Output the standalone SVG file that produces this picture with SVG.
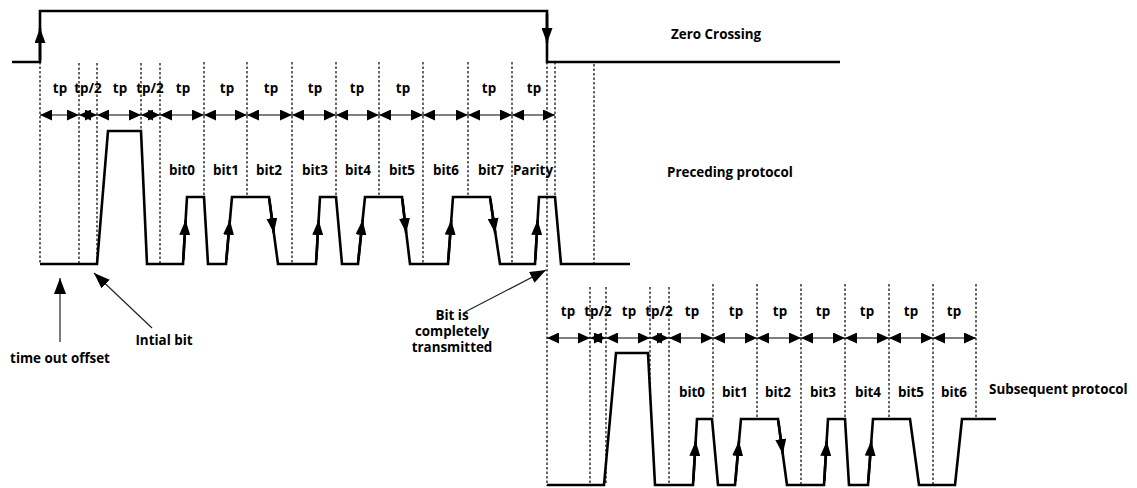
<svg xmlns="http://www.w3.org/2000/svg" width="1137" height="488" viewBox="0 0 1137 488">
<style>
  text { font-family: "Open Sans", "Noto Sans", "Liberation Sans", sans-serif; font-weight: bold; font-size: 13.4px; fill: #000; }
  .c { text-anchor: middle; }
  .sig { fill: none; stroke: #000; stroke-width: 2.6; stroke-linejoin: miter; }
  .dash { stroke: #000; stroke-width: 1.2; stroke-dasharray: 2.5 2; fill: none; }
  .dim { stroke: #000; stroke-width: 1; fill: none; marker-start: url(#dh); marker-end: url(#dh); }
  .ptr { stroke: #222; stroke-width: 1.2; fill: none; marker-end: url(#ph); }
  .ea { stroke: #000; stroke-width: 2.6; fill: none; marker-end: url(#eh); }
</style>
<defs>
  <marker id="dh" viewBox="0 0 12 11" refX="12" refY="5.5" markerWidth="12" markerHeight="11" markerUnits="userSpaceOnUse" orient="auto-start-reverse">
    <path d="M0,0 L12,5.5 L0,11 z" fill="#000"/>
  </marker>
  <marker id="ph" viewBox="0 0 16 12" refX="16" refY="6" markerWidth="16" markerHeight="12" markerUnits="userSpaceOnUse" orient="auto">
    <path d="M0,0 L16,6 L0,12 z" fill="#000"/>
  </marker>
  <marker id="eh" viewBox="0 0 15 11" refX="15" refY="5.5" markerWidth="15" markerHeight="11" markerUnits="userSpaceOnUse" orient="auto">
    <path d="M0,0 L15,5.5 L0,11 z" fill="#000"/>
  </marker>
</defs>

<g id="zero-crossing">
  <path class="sig" d="M12,62 H40 V11 H547 V62 H840"/>
  <line class="ea" x1="40" y1="60" x2="40" y2="28"/>
  <line class="ea" x1="547" y1="14" x2="547" y2="43"/>
  <text x="671" y="39">Zero Crossing</text>
</g>

<g id="preceding-protocol">
  <g id="preceding-grid">
    <line class="dash" x1="40" y1="62" x2="40" y2="264"/>
    <line class="dash" x1="79" y1="63" x2="79" y2="264"/>
    <line class="dash" x1="97" y1="63" x2="97" y2="264"/>
    <line class="dash" x1="141" y1="63" x2="141" y2="131"/>
    <line class="dash" x1="160" y1="63" x2="160" y2="264"/>
    <line class="dash" x1="204" y1="62" x2="204" y2="197"/>
    <line class="dash" x1="247" y1="62" x2="247" y2="197"/>
    <line class="dash" x1="292" y1="62" x2="292" y2="264"/>
    <line class="dash" x1="336" y1="62" x2="336" y2="197"/>
    <line class="dash" x1="379" y1="62" x2="379" y2="197"/>
    <line class="dash" x1="423" y1="62" x2="423" y2="264"/>
    <line class="dash" x1="468" y1="62" x2="468" y2="197"/>
    <line class="dash" x1="512" y1="62" x2="512" y2="264"/>
    <line class="dash" x1="547" y1="62" x2="547" y2="486"/>
    <line class="dash" x1="555" y1="62" x2="555" y2="197"/>
    <line class="dash" x1="594" y1="64" x2="594" y2="264"/>
  </g>
  <g id="preceding-dims">
    <line class="dim" x1="40" y1="115" x2="79" y2="115"/>
    <line class="dim" x1="79" y1="115" x2="97" y2="115"/>
    <line class="dim" x1="97" y1="115" x2="141" y2="115"/>
    <line class="dim" x1="141" y1="115" x2="160" y2="115"/>
    <line class="dim" x1="160" y1="115" x2="204" y2="115"/>
    <line class="dim" x1="204" y1="115" x2="247" y2="115"/>
    <line class="dim" x1="247" y1="115" x2="292" y2="115"/>
    <line class="dim" x1="292" y1="115" x2="336" y2="115"/>
    <line class="dim" x1="336" y1="115" x2="379" y2="115"/>
    <line class="dim" x1="379" y1="115" x2="423" y2="115"/>
    <line class="dim" x1="423" y1="115" x2="468" y2="115"/>
    <line class="dim" x1="468" y1="115" x2="512" y2="115"/>
    <line class="dim" x1="512" y1="115" x2="555" y2="115"/>
  </g>
  <g id="preceding-tp-labels">
    <text class="c" x="60" y="93">tp</text>
    <text class="c" x="88" y="93">tp/2</text>
    <text class="c" x="120" y="93">tp</text>
    <text class="c" x="150" y="93">tp/2</text>
    <text class="c" x="183" y="93">tp</text>
    <text class="c" x="227" y="93">tp</text>
    <text class="c" x="271" y="93">tp</text>
    <text class="c" x="315" y="93">tp</text>
    <text class="c" x="357" y="93">tp</text>
    <text class="c" x="403" y="93">tp</text>
    <text class="c" x="489" y="93">tp</text>
    <text class="c" x="534" y="93">tp</text>
  </g>
  <path class="sig" d="M40,264 H97 L108,131 H141 L147,264 H183 L187,197 H204 L208,264 H226 L232,197 H269 L278,264 H316 L320,197 H336 L342,264 H358 L365,197 H402 L410,264 H448 L453,197 H490 L500,264 H535 L539,197 H555 L561,264 H630"/>
  <g id="preceding-edge-arrows">
    <line class="ea" x1="183.3" y1="260" x2="185.6" y2="220"/>
    <line class="ea" x1="226.3" y1="260" x2="229.9" y2="220"/>
    <line class="ea" x1="269.3" y1="199" x2="273.8" y2="233"/>
    <line class="ea" x1="316.3" y1="260" x2="318.6" y2="220"/>
    <line class="ea" x1="358.3" y1="260" x2="362.6" y2="220"/>
    <line class="ea" x1="402.3" y1="199" x2="406.2" y2="233"/>
    <line class="ea" x1="448.3" y1="260" x2="451.3" y2="220"/>
    <line class="ea" x1="490.3" y1="199" x2="495.2" y2="233"/>
    <line class="ea" x1="535.3" y1="260" x2="537.6" y2="220"/>
  </g>
  <g id="preceding-bit-labels">
    <text class="c" x="182" y="175">bit0</text>
    <text class="c" x="226" y="175">bit1</text>
    <text class="c" x="269" y="175">bit2</text>
    <text class="c" x="315" y="175">bit3</text>
    <text class="c" x="358" y="175">bit4</text>
    <text class="c" x="402" y="175">bit5</text>
    <text class="c" x="446" y="175">bit6</text>
    <text class="c" x="491" y="175">bit7</text>
    <text class="c" x="533" y="175">Parity</text>
  </g>
  <text x="667" y="177">Preceding protocol</text>
</g>

<g id="subsequent-protocol">
  <g id="subsequent-grid">
    <line class="dash" x1="590" y1="287" x2="590" y2="485"/>
    <line class="dash" x1="606" y1="287" x2="606" y2="485"/>
    <line class="dash" x1="650" y1="287" x2="650" y2="400"/>
    <line class="dash" x1="669" y1="287" x2="669" y2="485"/>
    <line class="dash" x1="713" y1="284" x2="713" y2="419"/>
    <line class="dash" x1="757" y1="284" x2="757" y2="419"/>
    <line class="dash" x1="801" y1="284" x2="801" y2="485"/>
    <line class="dash" x1="845" y1="284" x2="845" y2="419"/>
    <line class="dash" x1="889" y1="284" x2="889" y2="419"/>
    <line class="dash" x1="933" y1="284" x2="933" y2="485"/>
    <line class="dash" x1="976" y1="284" x2="976" y2="419"/>
  </g>
  <g id="subsequent-dims">
    <line class="dim" x1="547" y1="338" x2="590" y2="338"/>
    <line class="dim" x1="590" y1="338" x2="606" y2="338"/>
    <line class="dim" x1="606" y1="338" x2="650" y2="338"/>
    <line class="dim" x1="650" y1="338" x2="669" y2="338"/>
    <line class="dim" x1="669" y1="338" x2="713" y2="338"/>
    <line class="dim" x1="713" y1="338" x2="757" y2="338"/>
    <line class="dim" x1="757" y1="338" x2="801" y2="338"/>
    <line class="dim" x1="801" y1="338" x2="845" y2="338"/>
    <line class="dim" x1="845" y1="338" x2="889" y2="338"/>
    <line class="dim" x1="889" y1="338" x2="933" y2="338"/>
    <line class="dim" x1="933" y1="338" x2="976" y2="338"/>
  </g>
  <g id="subsequent-tp-labels">
    <text class="c" x="568" y="316">tp</text>
    <text class="c" x="598" y="316">tp/2</text>
    <text class="c" x="629" y="316">tp</text>
    <text class="c" x="659" y="316">tp/2</text>
    <text class="c" x="692" y="316">tp</text>
    <text class="c" x="736" y="316">tp</text>
    <text class="c" x="780" y="316">tp</text>
    <text class="c" x="823" y="316">tp</text>
    <text class="c" x="867" y="316">tp</text>
    <text class="c" x="911" y="316">tp</text>
    <text class="c" x="954" y="316">tp</text>
  </g>
  <path class="sig" d="M547,485 H604 L616,353 H648 L655,485 H693 L697,419 H712 L718,485 H735 L741,419 H778 L787,485 H824 L828,419 H845 L849,485 H868 L873,419 H910 L919,485 H955 L962,419 H996"/>
  <g id="subsequent-edge-arrows">
    <line class="ea" x1="693.3" y1="481" x2="695.7" y2="441"/>
    <line class="ea" x1="735.4" y1="481" x2="739" y2="441"/>
    <line class="ea" x1="778.3" y1="421" x2="782.8" y2="454"/>
    <line class="ea" x1="824.3" y1="481" x2="826.7" y2="441"/>
    <line class="ea" x1="868.3" y1="481" x2="871.3" y2="441"/>
  </g>
  <g id="subsequent-bit-labels">
    <text class="c" x="692" y="397">bit0</text>
    <text class="c" x="735" y="397">bit1</text>
    <text class="c" x="778" y="397">bit2</text>
    <text class="c" x="823" y="397">bit3</text>
    <text class="c" x="868" y="397">bit4</text>
    <text class="c" x="911" y="397">bit5</text>
    <text class="c" x="954" y="397">bit6</text>
  </g>
  <text x="989" y="394">Subsequent protocol</text>
</g>

<g id="connectors">
  <line class="ptr" x1="60" y1="342" x2="60" y2="278"/>
  <line class="ptr" x1="152" y1="328" x2="94" y2="273"/>
  <line class="ptr" x1="465" y1="312" x2="546" y2="270"/>
</g>

<g id="annotation-timeout">
  <text class="c" x="60" y="363">time out offset</text>
</g>
<g id="annotation-initial">
  <text class="c" x="164" y="345">Intial bit</text>
</g>
<g id="annotation-complete">
  <text class="c" x="452" y="320">Bit is</text>
  <text class="c" x="452" y="336">completely</text>
  <text class="c" x="452" y="352">transmitted</text>
</g>
</svg>
